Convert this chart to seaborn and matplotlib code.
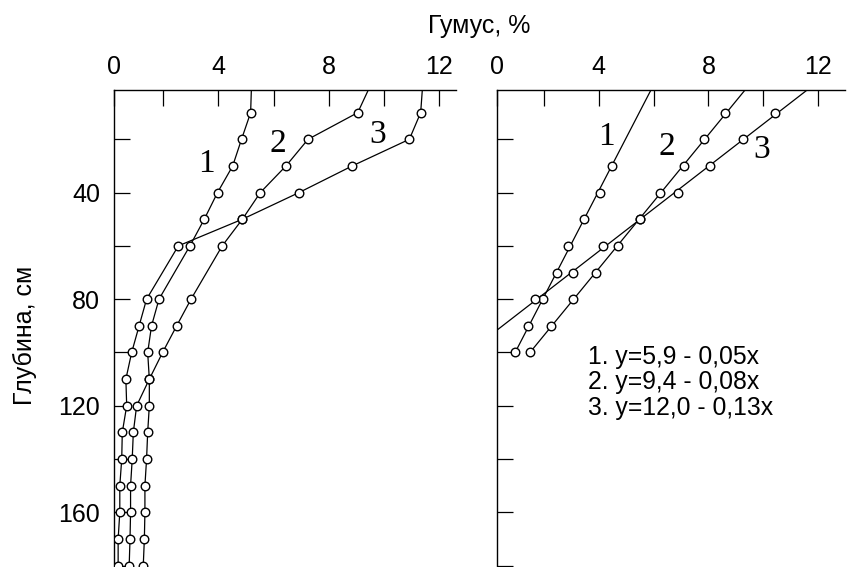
import numpy as np
import pandas as pd
import seaborn as sns
import matplotlib.pyplot as plt

# depth of samples, cm (left panel: measured profiles)
depth_left = [0, 10, 20, 30, 40, 50, 60, 80, 90, 100, 110, 120, 130, 140, 150, 160, 170, 180]
humus_1 = [5.2, 5.17, 4.84, 4.52, 3.97, 3.49, 2.97, 1.85, 1.58, 1.44, 1.50, 1.50, 1.44, 1.40, 1.34, 1.34, 1.32, 1.28]
humus_2 = [9.5, 9.05, 7.25, 6.45, 5.52, 4.87, 4.14, 3.01, 2.49, 1.98, 1.50, 1.04, 0.92, 0.88, 0.82, 0.82, 0.80, 0.77]
humus_3 = [11.4, 11.33, 10.92, 8.85, 6.92, 4.87, 2.55, 1.40, 1.13, 0.86, 0.65, 0.68, 0.52, 0.50, 0.43, 0.43, 0.37, 0.37]

# right panel: points and fitted lines
depth_r1 = [30, 40, 50, 60, 70, 80, 90, 100]
pts_r1 = [4.50, 4.05, 3.47, 2.90, 2.48, 1.99, 1.42, 0.96]
depth_r2 = [10, 20, 30, 40, 50, 60, 70, 80, 90, 100]
pts_r2 = [8.59, 7.84, 7.12, 6.25, 5.51, 4.70, 3.90, 3.08, 2.27, 1.50]
depth_r3 = [10, 20, 30, 40, 50, 60, 70, 80]
pts_r3 = [10.42, 9.25, 8.06, 6.89, 5.51, 4.15, 3.08, 1.69]

fit_depth_1 = [0, 100]
fit_x_1 = [5.98, 0.96]
fit_depth_2 = [0, 100]
fit_x_2 = [9.45, 1.50]
fit_depth_3 = [0, 94]
fit_x_3 = [11.78, 0.0]

equations = ["1. y=5,9 - 0,05x", "2. y=9,4 - 0,08x", "3. y=12,0 - 0,13x"]

sns.set_theme(style="ticks")
plt.rcParams['font.family'] = ['Liberation Sans', 'DejaVu Sans']
plt.rcParams['text.color'] = 'black'

fig = plt.figure(figsize=(8.56, 5.67), dpi=100)
ax1 = fig.add_axes([114 / 856, 0, 342 / 856, 477 / 567])
ax2 = fig.add_axes([497 / 856, 0, 348 / 856, 477 / 567])

line_kw = dict(color='black', linewidth=0.9, sort=False, estimator=None)
dot_kw = dict(color='white', edgecolor='black', linewidth=1.0, s=38, zorder=5)

# left panel
for vals in [humus_1, humus_2, humus_3]:
    df = pd.DataFrame({'x': vals, 'depth': depth_left})
    sns.lineplot(data=df, x='x', y='depth', ax=ax1, **line_kw)
    sns.scatterplot(data=df.iloc[1:], x='x', y='depth', ax=ax1, **dot_kw)

# right panel
for fx, fd in [(fit_x_1, fit_depth_1), (fit_x_2, fit_depth_2), (fit_x_3, fit_depth_3)]:
    sns.lineplot(x=fx, y=fd, ax=ax2, **line_kw)
for px, pd_ in [(pts_r1, depth_r1), (pts_r2, depth_r2), (pts_r3, depth_r3)]:
    sns.scatterplot(x=px, y=pd_, ax=ax2, **dot_kw)

for ax, xmin, xmax in [(ax1, 0.22, 12.61), (ax2, 0.30, 12.97)]:
    ax.set_xlim(xmin, xmax)
    ax.set_ylim(180.5, 1.5)
    ax.set_xticks([xmin, 4, 8, 12])
    ax.set_xticklabels(['0', '4', '8', '12'])
    ax.set_xticks([2, 6, 10], minor=True)
    ax.xaxis.tick_top()
    ax.set_yticks([40, 80, 120, 160])
    ax.set_yticks([20, 60, 100, 140, 180], minor=True)
    ax.tick_params(which='both', direction='in', length=11.5, width=0.9, color='black',
                   labelsize=18, labelcolor='black')
    ax.tick_params(axis='x', pad=8)
    ax.tick_params(axis='y', pad=10)
    for s in ['right', 'bottom']:
        ax.spines[s].set_visible(False)
    for s in ['top', 'left']:
        ax.spines[s].set_linewidth(1.0)
        ax.spines[s].set_color('black')
    ax.set_xlabel('')
    ax.set_ylabel('')
    ax.set_facecolor('white')

ax2.tick_params(axis='y', labelleft=False)

serif = ['Liberation Serif', 'DejaVu Serif']
for x, d, t in [(3.58, 29, '1'), (6.17, 21.5, '2'), (9.77, 18.4, '3')]:
    ax1.text(x, d, t, fontsize=24, family=serif, color='black', ha='center', va='center')
for x, d, t in [(4.27, 19, '1'), (6.48, 22.8, '2'), (9.94, 24, '3')]:
    ax2.text(x, d, t, fontsize=24, family=serif, color='black', ha='center', va='center')

for i, eq in enumerate(equations):
    fig.text(588 / 856, 1 - (357 + 25.5 * i) / 567, eq, fontsize=17.8, color='black',
             ha='left', va='center')

fig.text(479 / 856, 1 - 26 / 567, 'Гумус, %', fontsize=18, color='black', ha='center', va='center')
fig.text(25 / 856, 1 - 335 / 567, 'Глубина, см', fontsize=18, color='black', rotation=90,
         ha='center', va='center')

fig.savefig('out.png', dpi=100, facecolor='white')
